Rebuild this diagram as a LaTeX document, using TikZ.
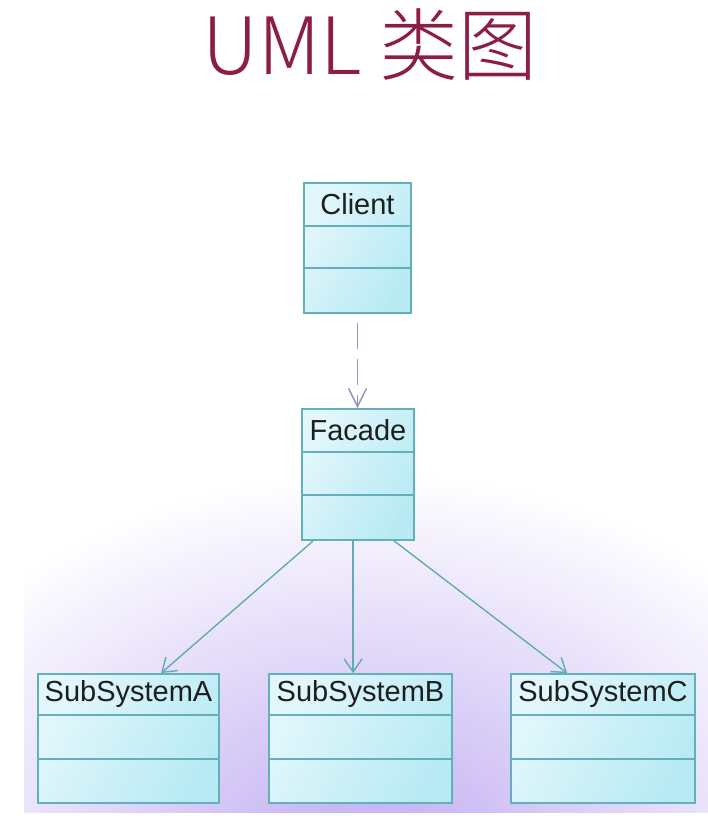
\documentclass[tikz,border=0pt]{standalone}
\usepackage{fontspec}
\setmainfont{Liberation Sans}
\newfontfamily\cjk{Noto Sans CJK SC Light}
\usetikzlibrary{arrows.meta,calc}
\definecolor{titlered}{RGB}{140,28,72}
\definecolor{lav}{RGB}{192,172,242}
\definecolor{boxline}{RGB}{100,176,186}
\definecolor{boxlight}{RGB}{226,247,251}
\definecolor{boxdark}{RGB}{184,234,244}
\definecolor{assoccol}{RGB}{95,172,182}
\definecolor{depcol}{RGB}{150,148,192}
\definecolor{txt}{RGB}{30,30,30}
\begin{document}
\begin{tikzpicture}[x=1pt,y=-1pt,
  umlclass/.style={draw=boxline, line width=1.8pt, left color=boxlight, right color=boxdark, shading angle=60, rectangle, inner sep=0pt},
  sepline/.style={draw=boxline, line width=1.8pt},
  clsname/.style={inner sep=0pt, text=txt, font=\fontsize{29}{33}\selectfont},
  assoc/.style={draw=assoccol, line width=1.4pt, -{Straight Barb[length=13pt,width=18pt,line width=1.4pt]}},
  dep/.style={draw=depcol, line width=1.5pt, dash pattern=on 26pt off 10pt, -{Straight Barb[length=18pt,width=18pt,line width=1.5pt]}},
  titlestyle/.style={inner sep=0pt, text=titlered, font=\cjk\fontsize{79}{83}\selectfont}
]
\useasboundingbox (0,0) rectangle (708,816);
\fill[white] (0,0) rectangle (708,816);
\begin{scope}
  \clip (24,470) rectangle (708,812);
  \shade[inner color=lav, outer color=white] (370,860) ellipse (520 and 390);
\end{scope}

\node[titlestyle] (title) at (370,45) {UML 类图};

% classes
\node[umlclass, minimum width=107pt, minimum height=130pt] (client) at (357.5,248) {};
\draw[sepline] ($(client.north west)+(0,44)$) -- ($(client.north east)+(0,44)$);
\draw[sepline] ($(client.north west)+(0,86)$) -- ($(client.north east)+(0,86)$);
\node[clsname] (clientname) at ($(client.north)+(0,22)$) {Client};

\node[umlclass, minimum width=112pt, minimum height=131pt] (facade) at (358,474.5) {};
\draw[sepline] ($(facade.north west)+(0,44)$) -- ($(facade.north east)+(0,44)$);
\draw[sepline] ($(facade.north west)+(0,87)$) -- ($(facade.north east)+(0,87)$);
\node[clsname] (facadename) at ($(facade.north)+(0,22)$) {Facade};

\node[umlclass, minimum width=181pt, minimum height=129pt] (subA) at (128.5,738.5) {};
\draw[sepline] ($(subA.north west)+(0,42)$) -- ($(subA.north east)+(0,42)$);
\draw[sepline] ($(subA.north west)+(0,86)$) -- ($(subA.north east)+(0,86)$);
\node[clsname] (subAname) at ($(subA.north)+(0,21)$) {SubSystemA};

\node[umlclass, minimum width=183pt, minimum height=129pt] (subB) at (360.5,738.5) {};
\draw[sepline] ($(subB.north west)+(0,42)$) -- ($(subB.north east)+(0,42)$);
\draw[sepline] ($(subB.north west)+(0,86)$) -- ($(subB.north east)+(0,86)$);
\node[clsname] (subBname) at ($(subB.north)+(0,21)$) {SubSystemB};

\node[umlclass, minimum width=184pt, minimum height=129pt] (subC) at (603,738.5) {};
\draw[sepline] ($(subC.north west)+(0,42)$) -- ($(subC.north east)+(0,42)$);
\draw[sepline] ($(subC.north west)+(0,86)$) -- ($(subC.north east)+(0,86)$);
\node[clsname] (subCname) at ($(subC.north)+(0,21)$) {SubSystemC};

% connectors
\draw[dep] ($(client.south)+(0,9)$) -- (client.south |- facade.north);
\draw[assoc] ($(facade.south west)+(12,0)$) -- ($(subA.north west)+(124,0)$);
\draw[assoc] ($(facade.south west)+(52,0)$) -- ($(subB.north west)+(85,0)$);
\draw[assoc] ($(facade.south west)+(93,0)$) -- ($(subC.north west)+(57,0)$);
\end{tikzpicture}
\end{document}
